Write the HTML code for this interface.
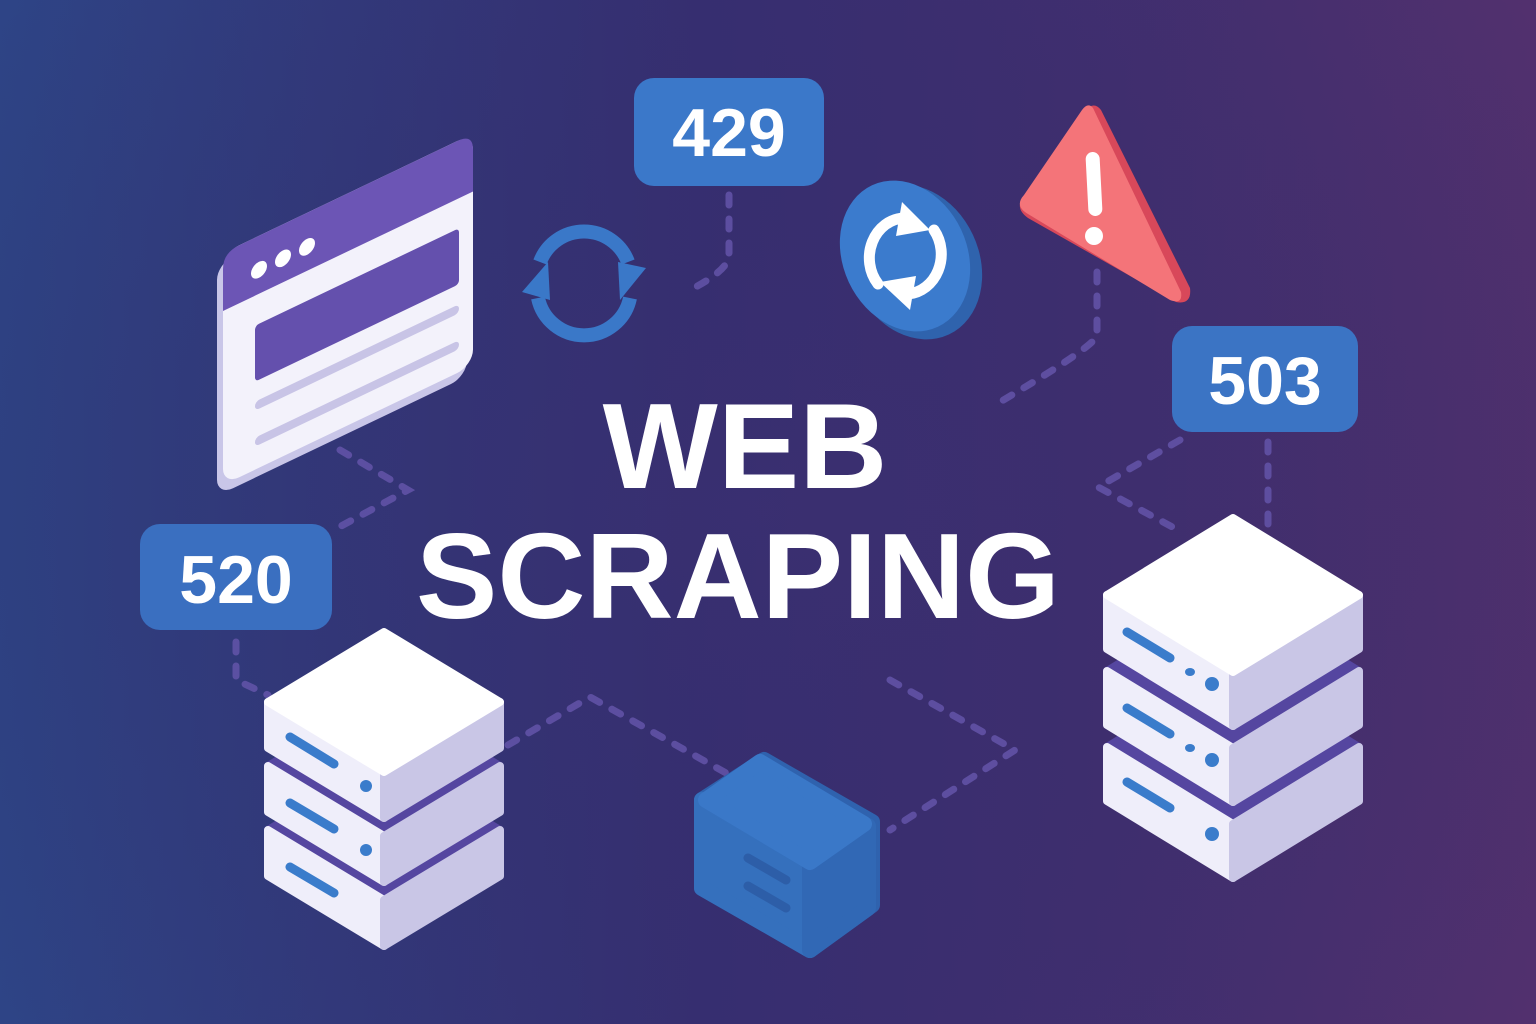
<!DOCTYPE html>
<html><head><meta charset="utf-8"><style>
html,body{margin:0;padding:0;width:1536px;height:1024px;overflow:hidden}
body{background:linear-gradient(90deg,#2e4486 0%,#372f72 45%,#432f70 75%,#52306e 100%)}
svg{position:absolute;left:0;top:0}
text{font-family:"Liberation Sans",sans-serif;font-weight:bold;fill:#fff}
</style></head><body>
<svg width="1536" height="1024" viewBox="0 0 1536 1024">
<defs>
<radialGradient id="vg" cx="50%" cy="50%" r="70%"><stop offset="0" stop-color="#3a2f70" stop-opacity="0.5"/><stop offset="1" stop-color="#2a2a60" stop-opacity="0"/></radialGradient>
</defs>
<rect width="1536" height="1024" fill="url(#vg)"/>
<g fill="none" stroke="#6656ad" stroke-width="7" stroke-linecap="round" stroke-dasharray="10 14" opacity="0.8">
<path d="M729 195 L729 255 Q729 270 690 290"/>
<path d="M1097 272 L1097 335 Q1097 345 1000 402"/>
<path d="M1268 442 L1268 530"/>
<path d="M1180 440 L1098 487 L1178 530"/>
<path d="M340 450 L408 490 L330 532"/>
<path d="M236 642 L236 680 L268 695"/>
<path d="M508 745 L590 697 L735 778"/>
<path d="M890 680 L1015 750 L890 830"/>
</g>
<g transform="matrix(1,-0.478,0,1,223,253)">
<rect x="-6" y="8" width="250" height="232" rx="16" fill="#c9c6e8"/>
<rect x="0" y="0" width="250" height="232" rx="16" fill="#f3f2fb"/>
<path d="M16 0 H234 Q250 0 250 16 V58 H0 V16 Q0 0 16 0Z" fill="#6c55b5"/>
<circle cx="36" cy="34" r="8" fill="#fff"/><circle cx="60" cy="34" r="8" fill="#fff"/><circle cx="84" cy="34" r="8" fill="#fff"/>
<rect x="32" y="88" width="204" height="56" rx="4" fill="#6450ad"/>
<rect x="32" y="164" width="204" height="9" rx="4.5" fill="#c8c4e6"/>
<rect x="32" y="200" width="204" height="9" rx="4.5" fill="#c8c4e6"/>
</g>
<rect x="634" y="78" width="190" height="108" rx="20" fill="#3b78c9"/>
<text x="729" y="156" font-size="68" text-anchor="middle">429</text>
<rect x="1172" y="326" width="186" height="106" rx="20" fill="#3b74c4"/>
<text x="1265" y="404" font-size="68" text-anchor="middle">503</text>
<rect x="140" y="524" width="192" height="106" rx="20" fill="#3a6fc0"/>
<text x="236" y="603" font-size="68" text-anchor="middle">520</text>
<g fill="none" stroke="#3a78c8" stroke-width="14">
<path d="M540 262 A47 47 0 0 1 628 262"/>
<path d="M630 298 A47 47 0 0 1 538 298"/>
</g>
<polygon points="522,292 548,262 550,300" fill="#3a78c8"/>
<polygon points="646,268 620,300 618,262" fill="#3a78c8"/>
<ellipse cx="915" cy="262" rx="64" ry="80" transform="rotate(-25 915 262)" fill="#2f63ad"/>
<ellipse cx="905" cy="256" rx="62" ry="78" transform="rotate(-25 905 256)" fill="#3b7bcd"/>
<g fill="none" stroke="#fff" stroke-width="11" stroke-linecap="round">
<path d="M878 284 A36 40 0 0 1 904 218"/>
<path d="M934 230 A36 40 0 0 1 908 294"/>
</g>
<polygon points="902,202 930,230 896,236" fill="#fff"/>
<polygon points="910,310 880,282 916,276" fill="#fff"/>
<path d="M1101 110 L1190 288 Q1192 305 1176 302 L1028 218 Q1014 208 1024 196 L1086 110 Q1094 101 1101 110Z" fill="#d8485a"/>
<path d="M1093 108 L1181 292 Q1183 305 1170 300 L1028 214 Q1014 206 1024 195 L1082 110 Q1088 102 1093 108Z" fill="#f47479"/>
<rect x="1087" y="152" width="14" height="64" rx="7" fill="#fff" transform="rotate(-3 1094 184)"/>
<circle cx="1094" cy="236" r="9" fill="#fff"/>
<text x="745" y="488" font-size="122" text-anchor="middle">WEB</text>
<text x="738" y="618" font-size="122" text-anchor="middle">SCRAPING</text>
<g stroke-linejoin="round" stroke-width="8">
<polygon points="384,760 500,830 384,900 268,830" fill="#5546a0" stroke="#5546a0"/>
<polygon points="268,830 384,900 384,946 268,876" fill="#efeefa" stroke="#efeefa"/>
<polygon points="500,830 384,900 384,946 500,876" fill="#c9c6e6" stroke="#c9c6e6"/>
<polygon points="384,696 500,766 384,836 268,766" fill="#5546a0" stroke="#5546a0"/>
<polygon points="268,766 384,836 384,882 268,812" fill="#efeefa" stroke="#efeefa"/>
<polygon points="500,766 384,836 384,882 500,812" fill="#c9c6e6" stroke="#c9c6e6"/>
<polygon points="268,702 384,772 384,818 268,748" fill="#efeefa" stroke="#efeefa"/>
<polygon points="500,702 384,772 384,818 500,748" fill="#c9c6e6" stroke="#c9c6e6"/>
<polygon points="384,632 500,702 384,772 268,702" fill="#ffffff" stroke="#ffffff"/>
<polygon points="1233,670 1359,747 1233,824 1107,747" fill="#5546a0" stroke="#5546a0"/>
<polygon points="1107,747 1233,824 1233,878 1107,801" fill="#efeefa" stroke="#efeefa"/>
<polygon points="1359,747 1233,824 1233,878 1359,801" fill="#c9c6e6" stroke="#c9c6e6"/>
<polygon points="1233,594 1359,671 1233,748 1107,671" fill="#5546a0" stroke="#5546a0"/>
<polygon points="1107,671 1233,748 1233,802 1107,725" fill="#efeefa" stroke="#efeefa"/>
<polygon points="1359,671 1233,748 1233,802 1359,725" fill="#c9c6e6" stroke="#c9c6e6"/>
<polygon points="1107,595 1233,672 1233,726 1107,649" fill="#efeefa" stroke="#efeefa"/>
<polygon points="1359,595 1233,672 1233,726 1359,649" fill="#c9c6e6" stroke="#c9c6e6"/>
<polygon points="1233,518 1359,595 1233,672 1107,595" fill="#ffffff" stroke="#ffffff"/>
</g>
<g stroke="#3a7ccb" stroke-width="9" stroke-linecap="round">
<line x1="290" y1="737" x2="334" y2="764"/><line x1="290" y1="803" x2="334" y2="829"/><line x1="290" y1="867" x2="334" y2="893"/>
<line x1="1127" y1="632" x2="1170" y2="658"/><line x1="1127" y1="708" x2="1170" y2="734"/><line x1="1127" y1="782" x2="1170" y2="808"/>
</g>
<g fill="#3a7ccb">
<circle cx="366" cy="786" r="6"/><circle cx="366" cy="850" r="6"/>
<ellipse cx="1190" cy="672" rx="5" ry="4"/><circle cx="1212" cy="684" r="7"/>
<ellipse cx="1190" cy="748" rx="5" ry="4"/><circle cx="1212" cy="760" r="7"/>
<circle cx="1212" cy="834" r="7"/>
</g>
<g stroke-linejoin="round" stroke-width="16">
<polygon points="764,760 872,822 872,905 810,950 702,888 702,800" fill="#2f62ae" stroke="#2f62ae"/>
<polygon points="702,800 810,862 810,950 702,888" fill="#3570bd" stroke="#3570bd"/>
<polygon points="810,862 868,826 868,908 810,950" fill="#3168b5" stroke="#3168b5"/>
<polygon points="760,762 864,824 810,862 706,800" fill="#3a78c8" stroke="#3a78c8"/>
</g>
<g stroke="#2d5ea8" stroke-width="9" stroke-linecap="round">
<line x1="748" y1="858" x2="786" y2="880"/><line x1="748" y1="886" x2="786" y2="908"/>
</g>
</svg>
</body></html>
